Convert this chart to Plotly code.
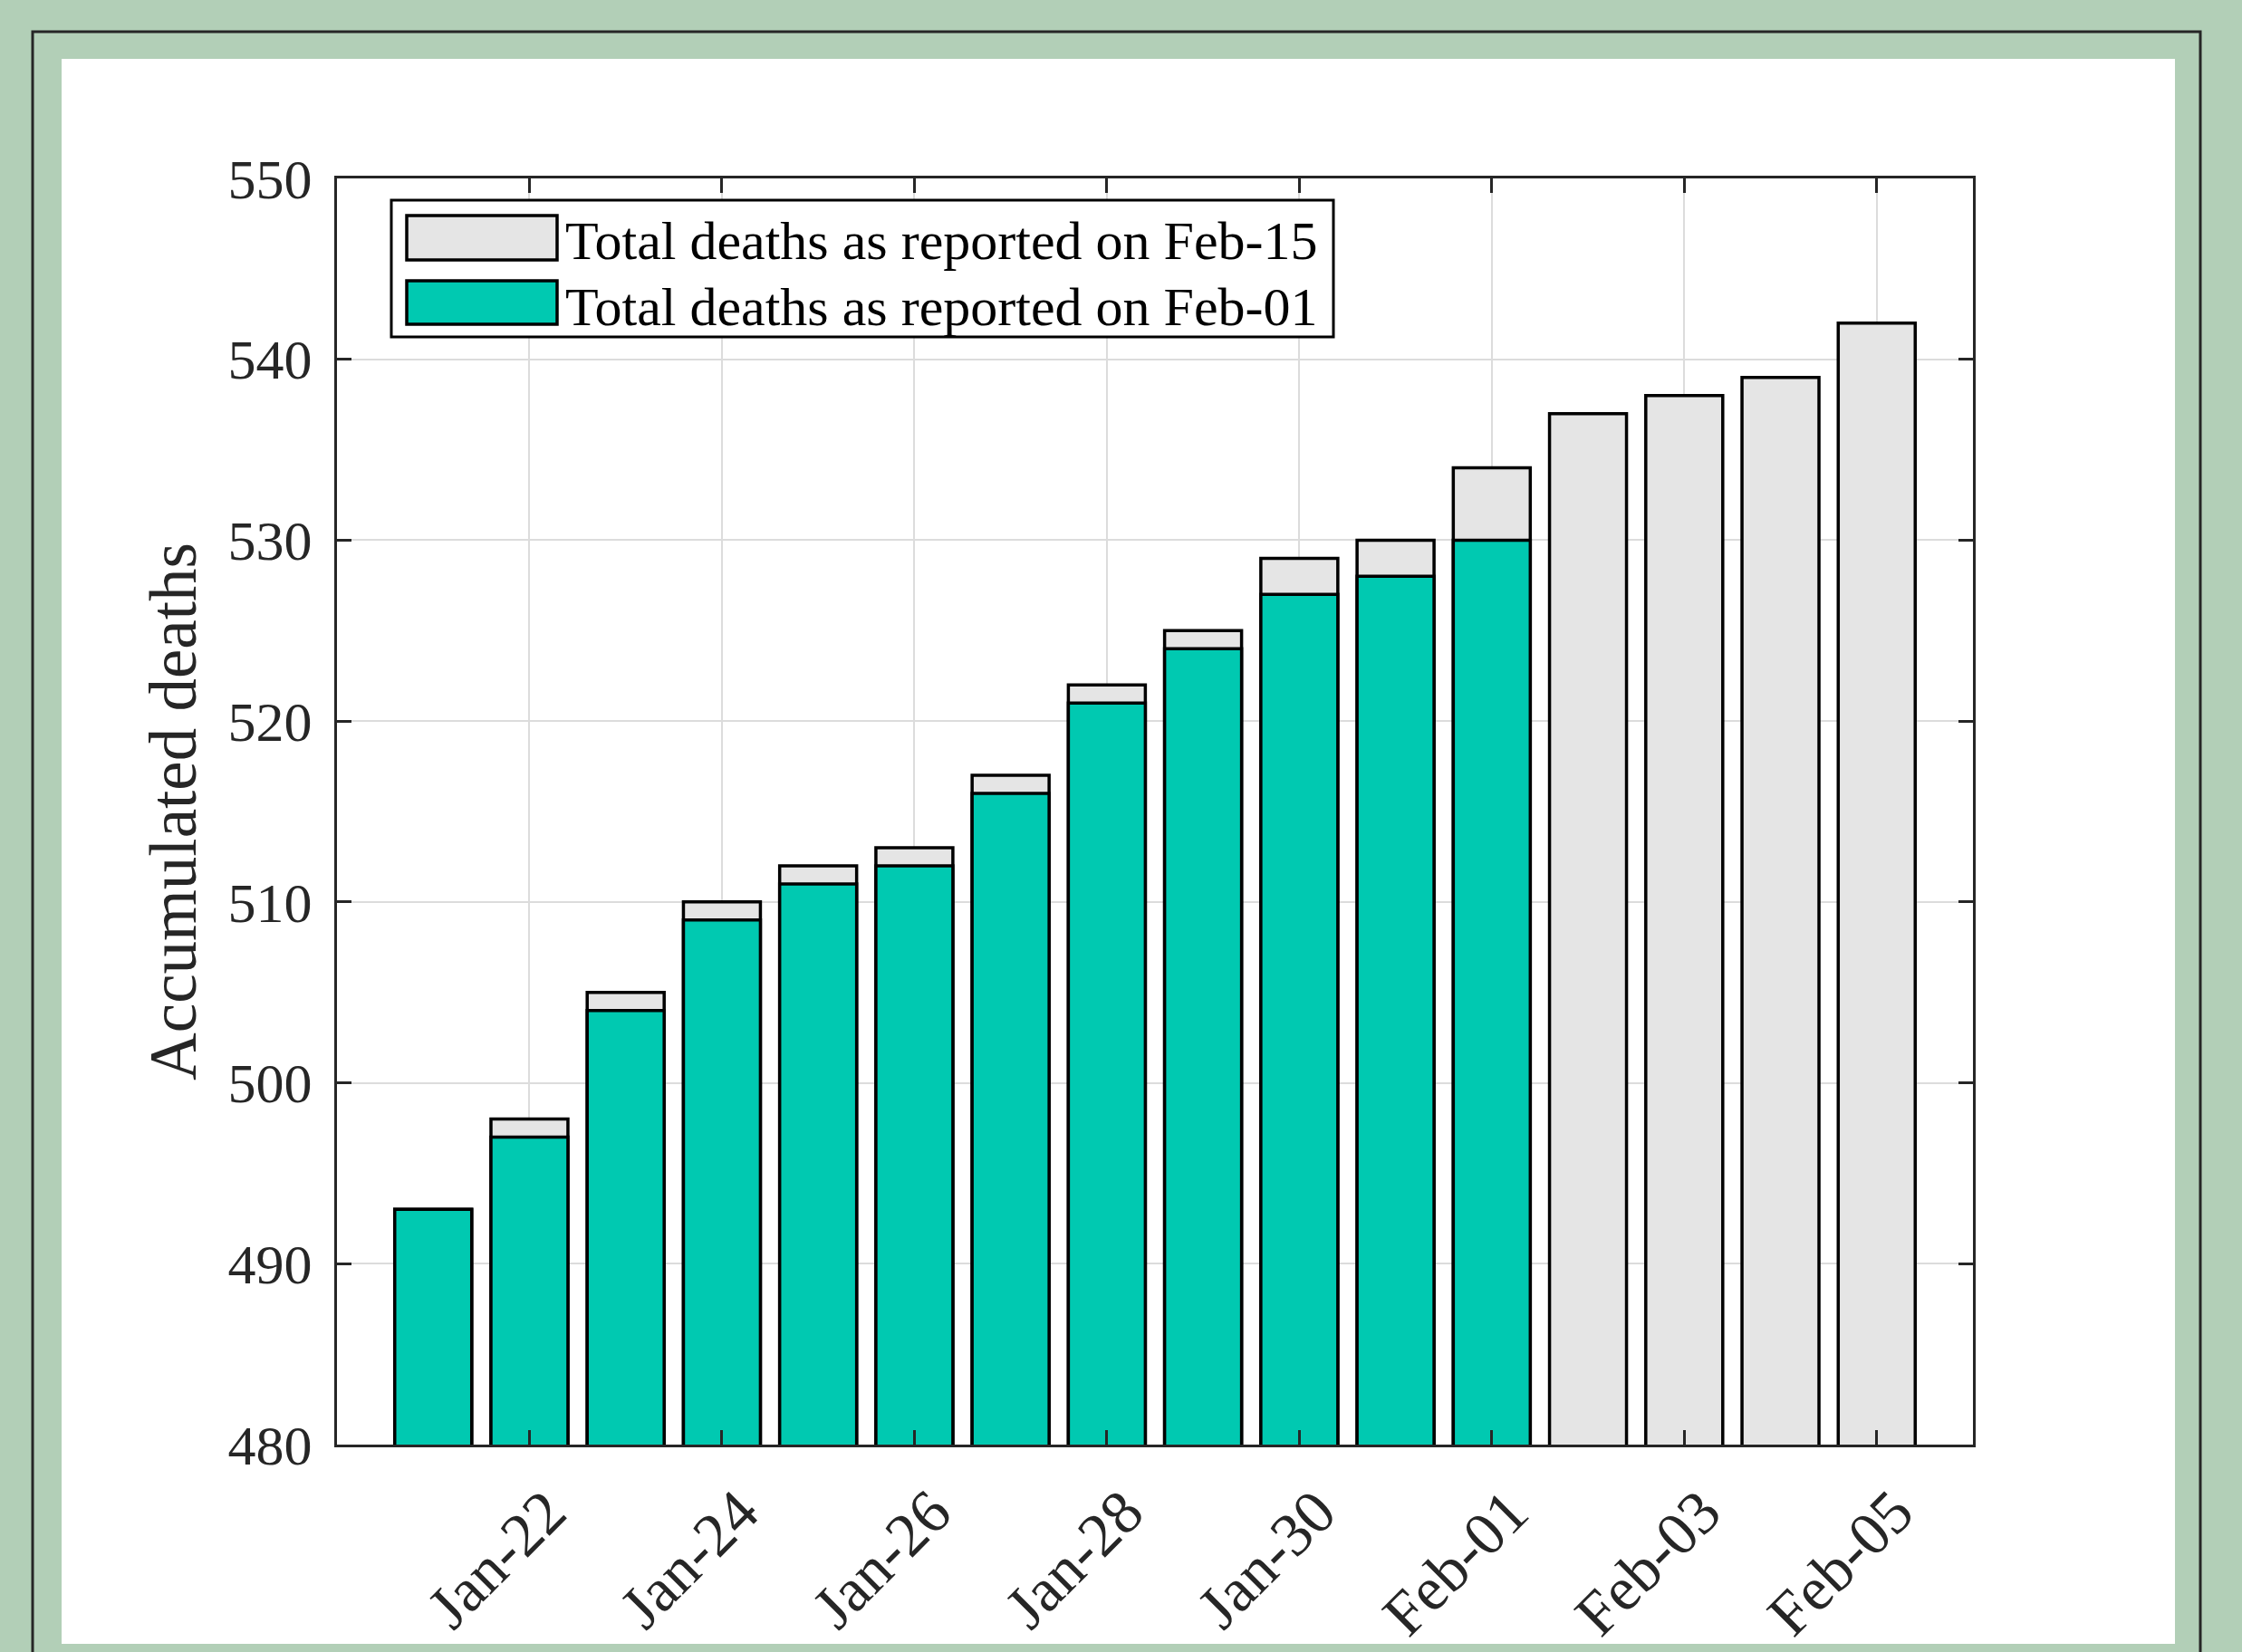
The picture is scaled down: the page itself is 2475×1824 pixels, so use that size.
import plotly.graph_objects as go

# ---- data ----
dates = ["Jan-21", "Jan-22", "Jan-23", "Jan-24", "Jan-25", "Jan-26", "Jan-27", "Jan-28",
         "Jan-29", "Jan-30", "Jan-31", "Feb-01", "Feb-02", "Feb-03", "Feb-04", "Feb-05"]
deaths_feb15 = [493, 498, 505, 510, 512, 513, 517, 522, 525, 529, 530, 534, 537, 538, 539, 542]
dates_feb01 = dates[:12]
deaths_feb01 = [493, 497, 504, 509, 511, 512, 516, 521, 524, 527, 528, 530]
tick_labels = ["Jan-22", "Jan-24", "Jan-26", "Jan-28", "Jan-30", "Feb-01", "Feb-03", "Feb-05"]
legend_names = ["Total deaths as reported on Feb-15", "Total deaths as reported on Feb-01"]

GREY = "#E5E5E5"
TEAL = "#00C9B1"
DARK = "#262626"
FONT = "Liberation Serif"

W, H = 2475, 1824
L, R, T, B = 372, 2178, 197, 1595  # plot area in pixels


def px(x):
    return (x - L) / (R - L)


def py(y):
    return (B - y) / (B - T)


fig = go.Figure()
fig.add_trace(go.Bar(x=dates, y=deaths_feb15, name=legend_names[0], width=0.8,
                     marker=dict(color=GREY, line=dict(color="black", width=3.5)), opacity=1))
fig.add_trace(go.Bar(x=dates_feb01, y=deaths_feb01, name=legend_names[1], width=0.8,
                     marker=dict(color=TEAL, line=dict(color="black", width=3.5)), opacity=1))

shapes = [
    # white panel
    dict(type="rect", xref="paper", yref="paper", x0=px(68), x1=px(2401), y0=py(65), y1=py(1815),
         fillcolor="white", line=dict(width=0), layer="below"),
    # dark frame
    dict(type="rect", xref="paper", yref="paper", x0=px(36), x1=px(2429), y0=py(35), y1=py(1860),
         fillcolor="rgba(0,0,0,0)", line=dict(color=DARK, width=3), layer="below"),
    # legend box
    dict(type="rect", xref="paper", yref="paper", x0=px(432), x1=px(1472), y0=py(221), y1=py(372),
         fillcolor="white", line=dict(color="black", width=3), layer="above"),
    dict(type="rect", xref="paper", yref="paper", x0=px(449), x1=px(615), y0=py(238), y1=py(287),
         fillcolor=GREY, line=dict(color="black", width=3.5), layer="above"),
    dict(type="rect", xref="paper", yref="paper", x0=px(449), x1=px(615), y0=py(310), y1=py(358),
         fillcolor=TEAL, line=dict(color="black", width=3.5), layer="above"),
]

annotations = [
    dict(text=legend_names[0], xref="paper", yref="paper", x=px(622), y=py(266),
         xanchor="left", yanchor="middle", showarrow=False,
         font=dict(family=FONT, size=60, color="black")),
    dict(text=legend_names[1], xref="paper", yref="paper", x=px(622), y=py(339),
         xanchor="left", yanchor="middle", showarrow=False,
         font=dict(family=FONT, size=60, color="black")),
]

fig.update_layout(
    width=W, height=H,
    margin=dict(l=L, r=W - R, t=T, b=H - B, autoexpand=False),
    paper_bgcolor="#B2CFB7",
    plot_bgcolor="white",
    barmode="overlay",
    showlegend=False,
    shapes=shapes,
    annotations=annotations,
    font=dict(family=FONT, color=DARK),
)

fig.update_xaxes(
    type="category", categoryorder="array", categoryarray=dates,
    range=[-1, 16], tickmode="array", tickvals=tick_labels, ticktext=tick_labels,
    tickangle=-45, tickfont=dict(family=FONT, size=68, color=DARK),
    showline=True, linecolor=DARK, linewidth=3, mirror="ticks",
    ticks="inside", ticklen=16, tickwidth=3, tickcolor=DARK,
    showgrid=True, gridcolor="#DCDCDC", gridwidth=2,
    ticklabelstandoff=4, ticklabelshift=20, automargin=False,
)
fig.update_yaxes(
    range=[480, 550], dtick=10, tick0=480,
    tickfont=dict(family=FONT, size=62, color=DARK),
    title=dict(text="Accumulated deaths", font=dict(family=FONT, size=73, color=DARK), standoff=12),
    showline=True, linecolor=DARK, linewidth=3, mirror="ticks",
    ticks="inside", ticklen=16, tickwidth=3, tickcolor=DARK,
    showgrid=True, gridcolor="#DCDCDC", gridwidth=2, zeroline=False,
    ticklabelstandoff=12, automargin=False,
)

fig.write_html("out.html")
